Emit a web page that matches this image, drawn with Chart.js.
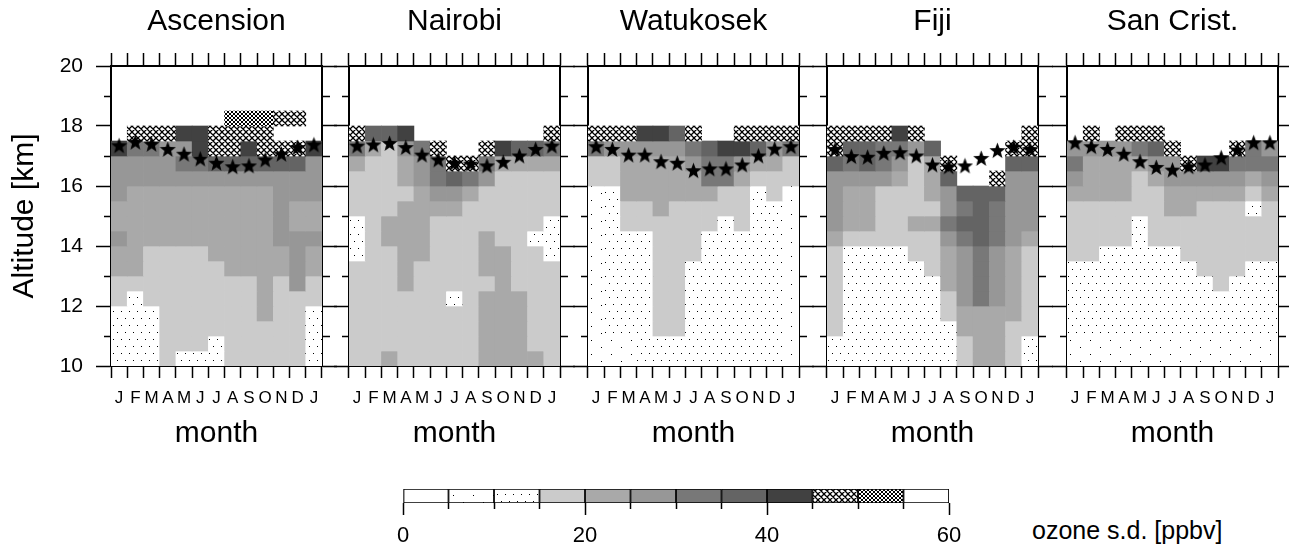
<!DOCTYPE html>
<html>
<head>
<meta charset="utf-8">
<title>Ozone s.d. by month and altitude</title>
<script src="https://cdn.jsdelivr.net/npm/chart.js@4.4.1/dist/chart.umd.min.js"></script>
<style>
  html, body { margin: 0; padding: 0; background: #fff; }
  #page { position: relative; width: 1289px; height: 547px; overflow: hidden; font-family: "Liberation Sans", Arial, sans-serif; }
  #page canvas { position: absolute; top: 0; }
  #unit { position: absolute; left: 1032px; top: 516px; font-size: 25px; line-height: 28px; color: #000; white-space: nowrap; }
</style>
</head>
<body>
<div id="page">
  <div id="unit">ozone s.d. [ppbv]</div>
</div>
<script>
// ---- data ----
const months = ['J', 'F', 'M', 'A', 'M', 'J', 'J', 'A', 'S', 'O', 'N', 'D', 'J'];
// bottom of each 0.5 km bin, top row first
const altBins = [19.5, 19.0, 18.5, 18.0, 17.5, 17.0, 16.5, 16.0, 15.5, 15.0, 14.5, 14.0, 13.5, 13.0, 12.5, 12.0, 11.5, 11.0, 10.5, 10.0];
const sdLevels = [0, 5, 10, 15, 20, 25, 30, 35, 40, 45, 50, 55, 60];
const stationNames = ['Ascension', 'Nairobi', 'Watukosek', 'Fiji', 'San Crist.'];

// s.d. class of each cell (index into sdLevels, hex digit; '-' = no data), one string per altitude bin
const ascensionSd = [
  '-------------', '-------------', '-------------', '-------aaa99-',
  '-999889999---', '8665589989998', '5555667777775', '5555555555555',
  '5444444444555', '4444444444544', '4444444444544', '5444444444555',
  '4433334444454', '4433333444454', '3333333334353', '3233333334333',
  '2223333334332', '2223333333332', '2223332333332', '2223222333332'
];
const nairobiSd = [
  '-------------', '-------------', '-------------', '-------------',
  '9778--------9', '643569--98776', '4334569964444', '3334567653333',
  '3333455433333', '3334444333333', '2344433333332', '2344433343322',
  '2334433344332', '3334333344333', '3334333334333', '3333332344433',
  '3333333344433', '3333333344433', '3333333344433', '3343333344443'
];
const watukosekSd = [
  '-------------', '-------------', '-------------', '-------------',
  '9998879--9999', '6555556788756', '3344445665443', '3344444664333',
  '1244444433231', '1233433333221', '1233333323221', '1222333222221',
  '1222333222221', '1222332222221', '1222332222221', '1222332222221',
  '1222332222221', '1222332222221', '1112222222221', '1112222222221'
];
const fijiSd = [
  '-------------', '-------------', '-------------', '-------------',
  '999989------9', '9776657----99', '76765349---77', '55554347--955',
  '5443334577755', '5443333567655', '5443344677655', '4333333567654',
  '3222233456543', '3222223456543', '3222222456543', '3222222356543',
  '3222222344443', '3222222244433', '2222222234432', '2222222234432'
];
const sanCristSd = [
  '-------------', '-------------', '-------------', '-------------',
  '-9-999-------', '5555679---965', '6444455988666', '5444345555545',
  '4444334444434', '3333334433323', '3333233333333', '3333233333333',
  '3322222333333', '2222222233322', '2222222223222', '2222222222222',
  '2222222222222', '2222222222222', '1111111111111', '1111111111111'
];

// tropopause height [km] per month (stars)
const ascensionTropo = [17.34, 17.46, 17.39, 17.22, 17.06, 16.9, 16.76, 16.64, 16.67, 16.87, 17.06, 17.28, 17.37];
const nairobiTropo = [17.33, 17.37, 17.42, 17.28, 17.03, 16.87, 16.76, 16.73, 16.67, 16.79, 17.0, 17.22, 17.33];
const watukosekTropo = [17.31, 17.22, 17.03, 17.03, 16.81, 16.76, 16.51, 16.57, 16.57, 16.7, 17.0, 17.23, 17.31];
const fijiTropo = [17.22, 16.98, 16.96, 17.09, 17.11, 17.0, 16.7, 16.64, 16.67, 16.92, 17.18, 17.29, 17.22];
const sanCristTropo = [17.44, 17.31, 17.22, 17.06, 16.81, 16.62, 16.53, 16.64, 16.7, 16.94, 17.2, 17.44, 17.44];

const stationSd = [ascensionSd, nairobiSd, watukosekSd, fijiSd, sanCristSd];
const stationTropo = [ascensionTropo, nairobiTropo, watukosekTropo, fijiTropo, sanCristTropo];

// ---- layout ----
const plotLefts = [111, 349, 588, 827, 1067];
const plotW = 211;
const canvasH = 460;
const FONT = '"Liberation Sans", Arial, sans-serif';

Chart.defaults.font.family = FONT;
Chart.defaults.color = '#000';

const page = document.getElementById('page');

// class digit -> mid value in ppbv
const sdValue = ch => ch === '-' ? null : parseInt(ch, 16) * 5 + 2.5;

function fillFor(v, fills) {
  for (let k = 0; k < sdLevels.length - 1; k++) {
    if (v >= sdLevels[k] && v < sdLevels[k + 1]) return fills[k];
  }
  return fills[fills.length - 1];
}

function makeFills(ctx) {
  const tile = (w, h, draw) => {
    const c = document.createElement('canvas');
    c.width = w; c.height = h;
    const g = c.getContext('2d');
    g.fillStyle = '#fff';
    g.fillRect(0, 0, w, h);
    draw(g, w, h);
    return ctx.createPattern(c, 'repeat');
  };
  const dots = pts => g => {
    g.fillStyle = '#000';
    pts.forEach(([x, y]) => g.fillRect(x, y, 1, 1));
  };
  const cross = lw => (g, s) => {
    g.strokeStyle = '#000';
    g.lineWidth = lw;
    g.beginPath();
    for (const o of [-s, 0, s]) {
      g.moveTo(o - 1, -1); g.lineTo(o + s + 1, s + 1);
      g.moveTo(o + s + 1, -1); g.lineTo(o - 1, s + 1);
    }
    g.stroke();
  };
  return [
    '#ffffff',
    tile(20, 14, dots([[3, 4], [13, 11]])),
    tile(8, 14, dots([[1, 3], [5, 10]])),
    '#cbcbcb', '#a9a9a9', '#979797', '#787878', '#646464', '#414141',
    tile(6, 6, cross(1.3)),
    tile(4, 4, cross(1)),
    '#ffffff'
  ];
}

function makeStar(size) {
  const c = document.createElement('canvas');
  c.width = c.height = size;
  const g = c.getContext('2d');
  const R = size / 2, r = R * 0.42;
  g.beginPath();
  for (let k = 0; k < 10; k++) {
    const a = -Math.PI / 2 + k * Math.PI / 5;
    const rr = k % 2 ? r : R;
    g.lineTo(R + rr * Math.cos(a), R + 0.5 + rr * Math.sin(a));
  }
  g.closePath();
  g.fillStyle = '#000';
  g.fill();
  return c;
}
const starImg = makeStar(17);

function buildPanel(k) {
  const L = k === 0 ? 111 : 20, R = 20;
  const cv = document.createElement('canvas');
  cv.width = L + plotW + R;
  cv.height = canvasH;
  cv.style.left = (plotLefts[k] - L) + 'px';
  page.appendChild(cv);
  const fills = makeFills(cv.getContext('2d'));
  const grid = stationSd[k];

  const cellSets = altBins.map((alt, r) => {
    const vals = months.map((m, c) => sdValue(grid[r][c]));
    return {
      type: 'bar',
      order: 1,
      grouped: false,
      barPercentage: 1,
      categoryPercentage: 1,
      borderWidth: 0,
      data: vals.map(v => v === null ? null : [alt, alt + 0.5]),
      backgroundColor: vals.map(v => v === null ? 'rgba(0,0,0,0)' : fillFor(v, fills))
    };
  });
  const starSet = {
    type: 'line',
    order: 0,
    data: stationTropo[k],
    showLine: false,
    pointStyle: starImg,
    pointRadius: 8
  };

  const frame = { color: '#000', width: 2 };
  const tickGrid = len => ({ drawOnChartArea: false, tickLength: len, tickWidth: 1.5, tickColor: '#000' });

  new Chart(cv, {
    type: 'bar',
    data: { labels: months, datasets: [...cellSets, starSet] },
    options: {
      responsive: false,
      animation: false,
      events: [],
      layout: { padding: 0 },
      plugins: { legend: { display: false }, tooltip: { enabled: false } },
      scales: {
        x: {
          type: 'category', position: 'bottom', offset: true, z: 1,
          grid: { ...tickGrid(12), offset: true },
          border: frame,
          ticks: { font: { size: 17 }, padding: 10, autoSkip: false, maxRotation: 0 },
          title: { display: true, text: 'month', font: { size: 30 }, padding: { bottom: 8 } },
          afterFit: s => { s.height = canvasH - 366; }
        },
        x2: {
          type: 'category', position: 'top', offset: true, z: 1, labels: months,
          grid: { ...tickGrid(13), offset: true },
          border: frame,
          ticks: { display: false },
          title: { display: true, text: stationNames[k], font: { size: 30 }, padding: { top: 4 } },
          afterFit: s => { s.height = 66; }
        },
        y: {
          type: 'linear', position: 'left', min: 10, max: 20, z: 1,
          grid: { ...tickGrid(15), tickBorderDash: c => (c.tick && c.tick.value % 2) ? [0, 8, 7, 100] : [] },
          border: frame,
          ticks: { display: k === 0, stepSize: 1, autoSkip: false, font: { size: 21 }, padding: 13,
                   callback: v => v % 2 === 0 ? v : '' },
          title: { display: k === 0, text: 'Altitude [km]', font: { size: 30 }, padding: { top: 7 } },
          afterFit: s => { s.width = L; }
        },
        y2: {
          type: 'linear', position: 'right', min: 10, max: 20, z: 1,
          grid: { ...tickGrid(15), tickBorderDash: c => (c.tick && c.tick.value % 2) ? [7, 100] : [] },
          border: frame,
          ticks: { display: false, stepSize: 1, autoSkip: false },
          afterFit: s => { s.width = R; }
        }
      }
    }
  });
}

stationNames.forEach((n, k) => buildPanel(k));

// ---- colour bar ----
(function buildColorBar() {
  const cv = document.createElement('canvas');
  cv.width = 600; cv.height = 77;
  cv.style.left = '380px';
  cv.style.top = '470px';
  page.appendChild(cv);
  const fills = makeFills(cv.getContext('2d'));
  const sets = sdLevels.slice(0, -1).map((lo, k) => ({
    data: [[lo, sdLevels[k + 1]]],
    backgroundColor: fillFor(lo + 2.5, fills),
    borderColor: '#000',
    borderWidth: 1.2,
    borderSkipped: false,
    grouped: false,
    barPercentage: 1,
    categoryPercentage: 1
  }));
  new Chart(cv, {
    type: 'bar',
    data: { labels: [''], datasets: sets },
    options: {
      indexAxis: 'y',
      responsive: false,
      animation: false,
      events: [],
      layout: { padding: { left: 23, right: 31, top: 19, bottom: 0 } },
      plugins: { legend: { display: false }, tooltip: { enabled: false } },
      scales: {
        x: {
          type: 'linear', position: 'bottom', min: 0, max: 60,
          border: { display: false },
          grid: { drawOnChartArea: false, tickLength: 12, tickWidth: 1.5, tickColor: '#000',
                  tickBorderDash: c => (c.tick && c.tick.value % 20) ? [6, 100] : [] },
          ticks: { stepSize: 5, autoSkip: false, maxRotation: 0, font: { size: 22 }, padding: 8,
                   callback: v => v % 20 === 0 ? v : '' },
          afterFit: s => { s.height = 44; }
        },
        y: { display: false }
      }
    }
  });
})();
</script>
</body>
</html>
